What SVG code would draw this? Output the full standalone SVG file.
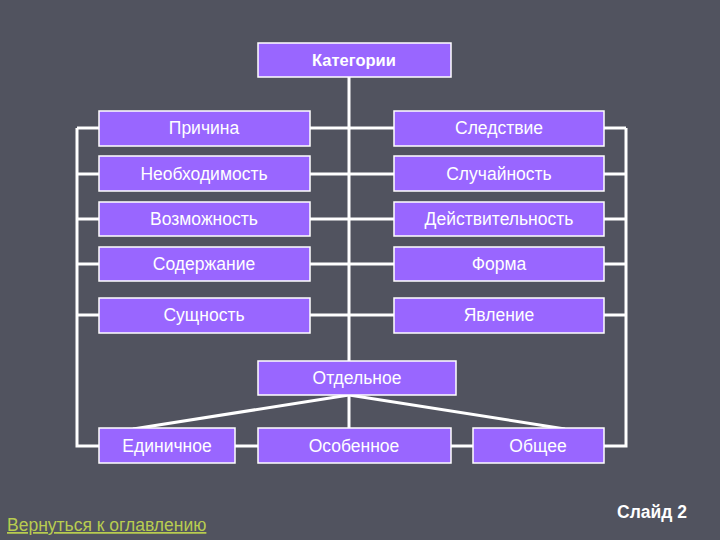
<svg xmlns="http://www.w3.org/2000/svg" width="720" height="540" viewBox="0 0 720 540">
<style>
.bg{fill:#51535f}
.box{fill:#9966ff;stroke:#ffffff;stroke-width:1.5}
.lbl{font-family:"Liberation Sans",Arial,sans-serif;font-size:17.5px;fill:#ffffff;text-anchor:middle}
.ln{stroke:#ffffff;stroke-width:3;fill:none}
</style>
<rect class="bg" x="0" y="0" width="720" height="540"/>
<g id="connectors">
<path class="ln" d="M349 77 V361"/>
<path class="ln" d="M349 395 V428"/>
<path class="ln" d="M349 395 L133 429"/>
<path class="ln" d="M349 395 L565 429"/>
<path class="ln" d="M77 128 V446 H626 V128"/>
<path class="ln" d="M77 128 H99 M77 174 H99 M77 219 H99 M77 264 H99 M77 315 H99"/>
<path class="ln" d="M604 128 H626 M604 174 H626 M604 219 H626 M604 264 H626 M604 315 H626"/>
<path class="ln" d="M310 128 H394 M310 174 H394 M310 219 H394 M310 264 H394 M310 315 H394"/>
</g>
<g id="n-kategorii"><rect class="box" x="258" y="43" width="193" height="34"/><text class="lbl" x="354" y="66" style="font-weight:bold;font-size:16.5px">Категории</text></g>
<g id="n-prichina"><rect class="box" x="99" y="111" width="211" height="35"/><text class="lbl" x="204" y="134">Причина</text></g>
<g id="n-sledstvie"><rect class="box" x="394" y="111" width="210" height="35"/><text class="lbl" x="499" y="134">Следствие</text></g>
<g id="n-neobh"><rect class="box" x="99" y="156" width="211" height="35"/><text class="lbl" x="204" y="180">Необходимость</text></g>
<g id="n-sluch"><rect class="box" x="394" y="156" width="210" height="35"/><text class="lbl" x="499" y="180">Случайность</text></g>
<g id="n-vozm"><rect class="box" x="99" y="202" width="211" height="34"/><text class="lbl" x="204" y="225">Возможность</text></g>
<g id="n-deistv"><rect class="box" x="394" y="202" width="210" height="34"/><text class="lbl" x="499" y="225">Действительность</text></g>
<g id="n-soderzh"><rect class="box" x="99" y="247" width="211" height="34"/><text class="lbl" x="204" y="270">Содержание</text></g>
<g id="n-forma"><rect class="box" x="394" y="247" width="210" height="34"/><text class="lbl" x="499" y="270">Форма</text></g>
<g id="n-sushch"><rect class="box" x="99" y="298" width="211" height="35"/><text class="lbl" x="204" y="321">Сущность</text></g>
<g id="n-yavl"><rect class="box" x="394" y="298" width="210" height="35"/><text class="lbl" x="499" y="321">Явление</text></g>
<g id="n-otdel"><rect class="box" x="258" y="361" width="198" height="34"/><text class="lbl" x="357" y="384">Отдельное</text></g>
<g id="n-edin"><rect class="box" x="99" y="428" width="136" height="35"/><text class="lbl" x="167" y="452">Единичное</text></g>
<g id="n-osob"><rect class="box" x="258" y="428" width="193" height="35"/><text class="lbl" x="354" y="452">Особенное</text></g>
<g id="n-obshch"><rect class="box" x="473" y="428" width="131" height="35"/><text class="lbl" x="538" y="452">Общее</text></g>
<text x="652" y="518" style="font-family:'Liberation Sans',Arial,sans-serif;font-size:17.5px;font-weight:bold;fill:#ffffff;text-anchor:middle">Слайд 2</text>
<text x="7" y="531" style="font-family:'Liberation Sans',Arial,sans-serif;font-size:17.5px;fill:#b8cc50;text-decoration:underline">Вернуться к оглавлению</text>
</svg>
